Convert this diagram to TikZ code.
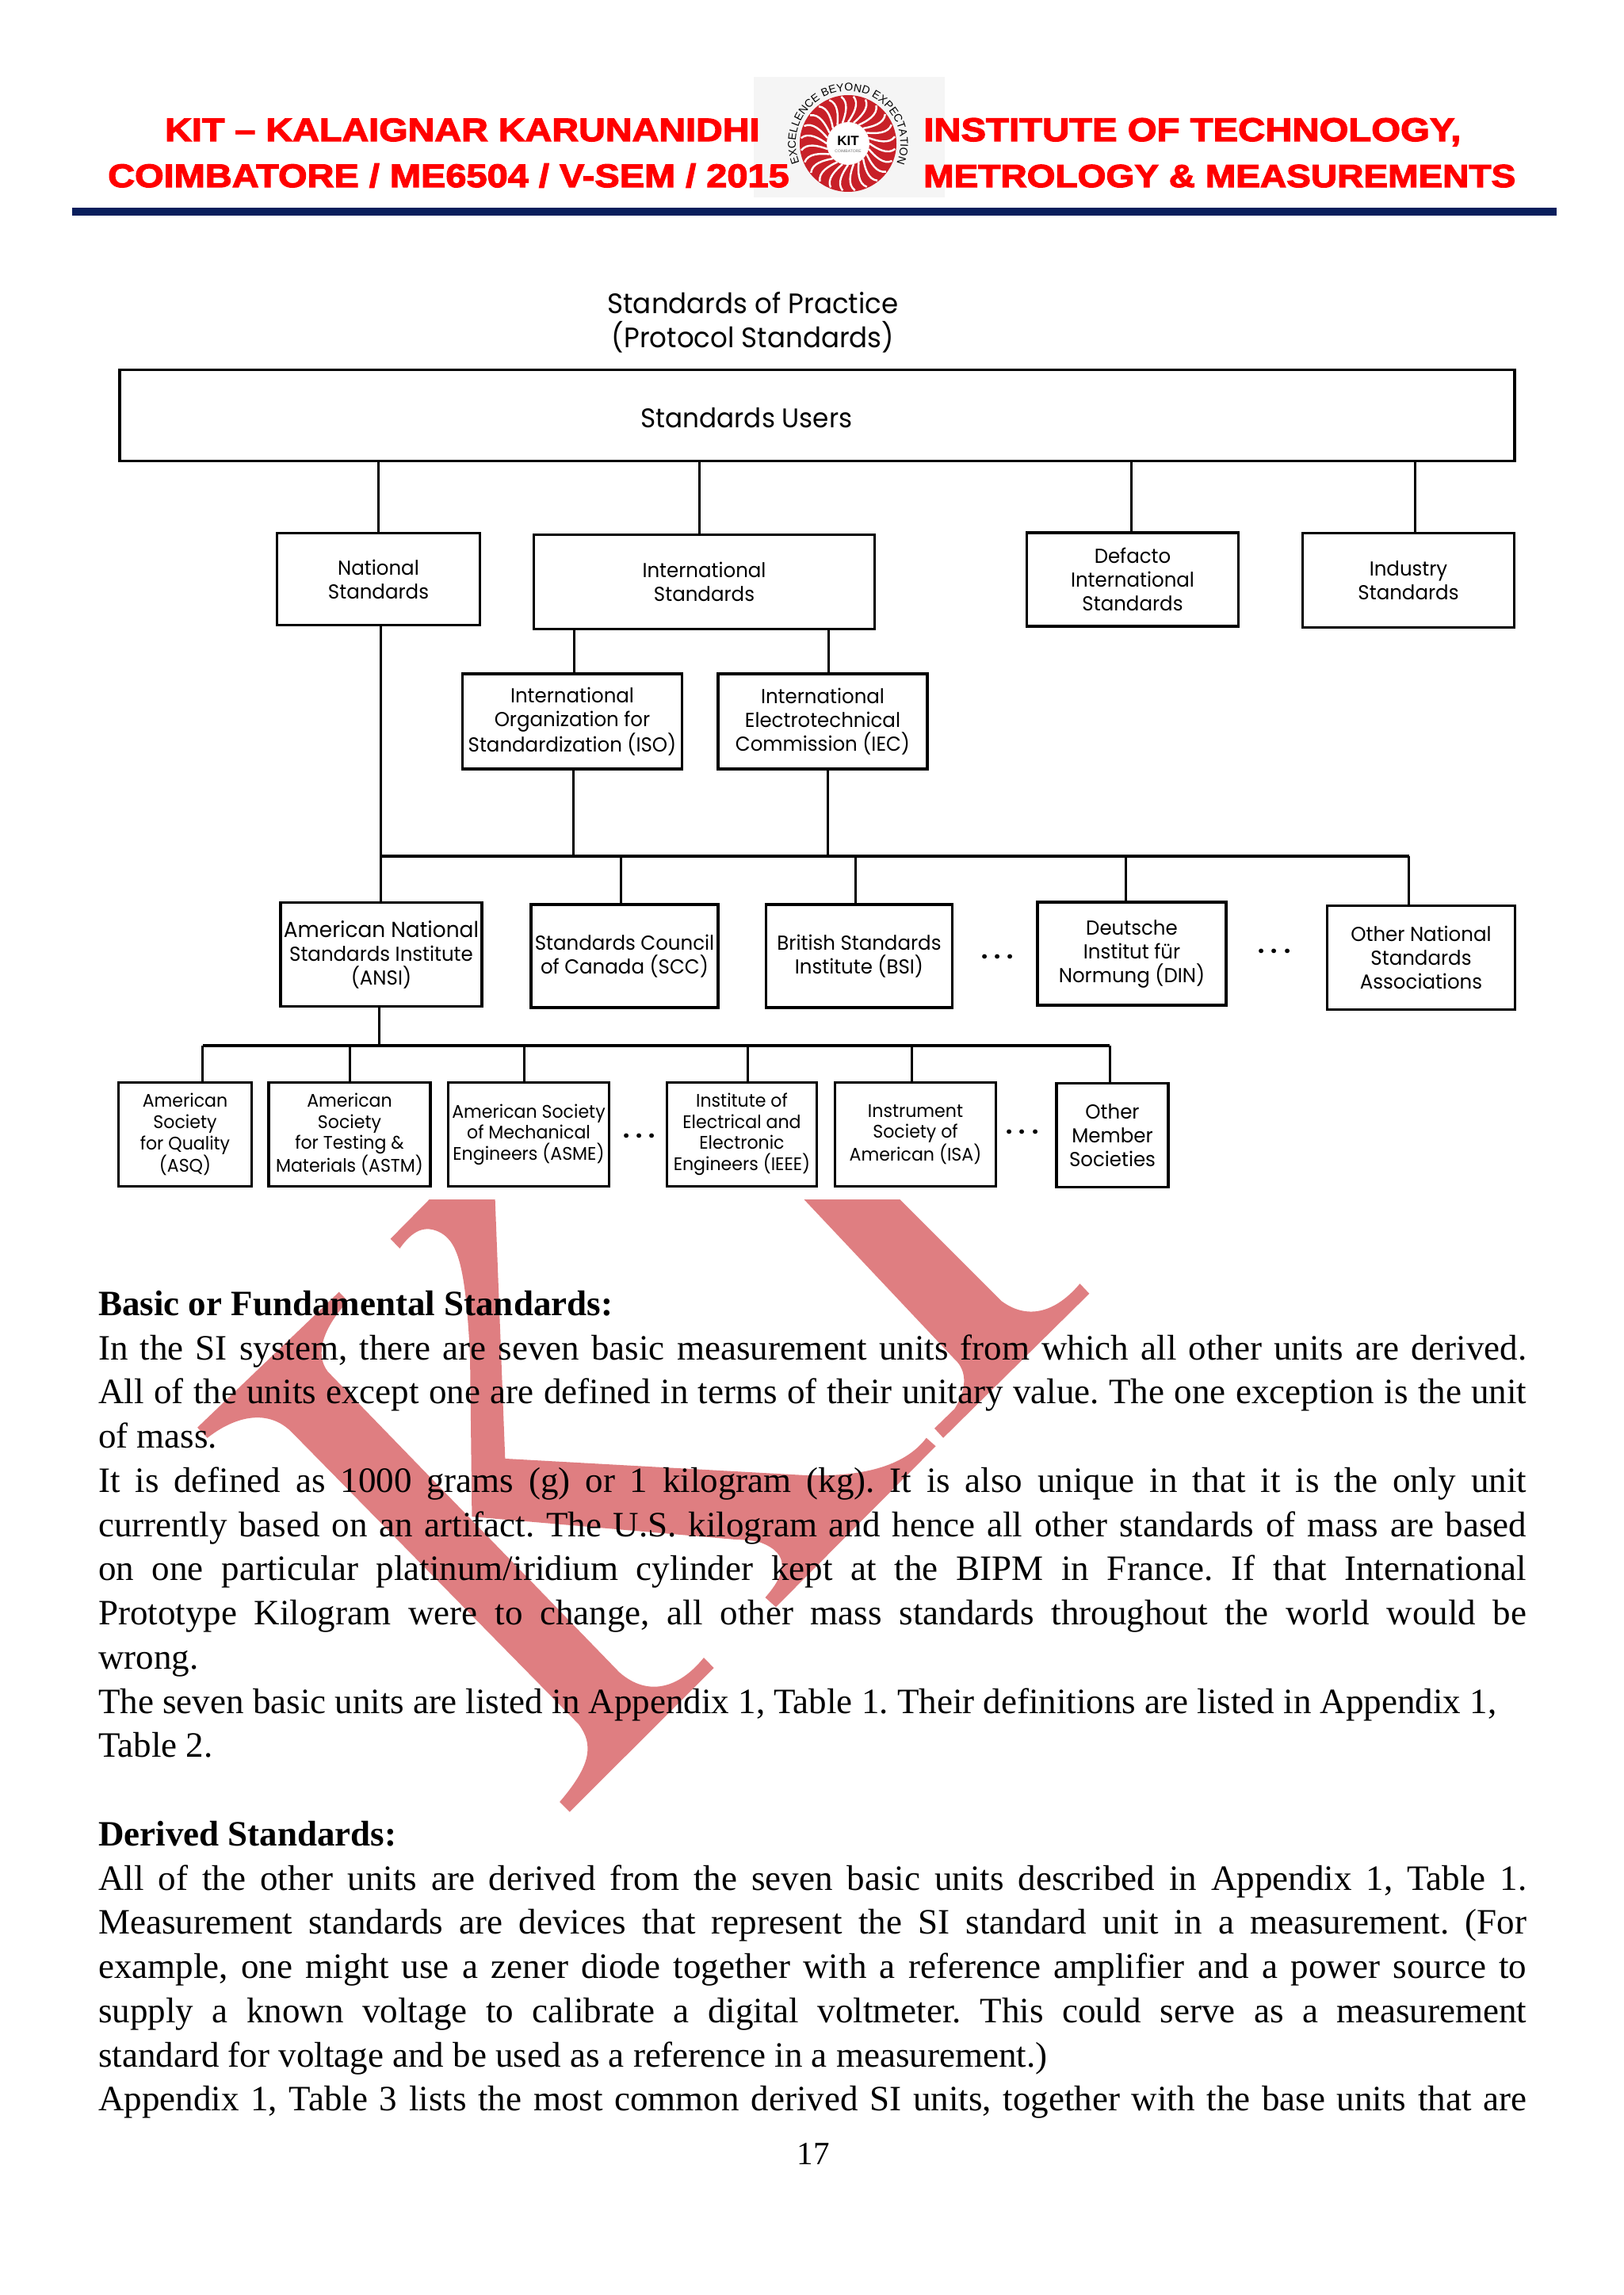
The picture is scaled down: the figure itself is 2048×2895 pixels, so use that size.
\documentclass[tikz,border=0pt]{standalone}
\usepackage{fontspec}
\usetikzlibrary{decorations.text}
\setmainfont{Liberation Serif}
\newfontfamily\headfont[FakeStretch=1.14,BoldFeatures={FakeBold=3}]{Liberation Sans}
\newfontfamily\chartfont[FakeStretch=0.96]{Poppins}
\newfontfamily\logofont{Liberation Sans}
\definecolor{stampred}{RGB}{223,126,129}
\definecolor{barblue}{RGB}{9,30,92}
\definecolor{logored}{RGB}{200,32,40}
\tikzset{
	headtext/.style={anchor=base west, inner sep=0, text=red, font=\headfont\bfseries\fontsize{41}{41}\selectfont},
	stdbox/.style={draw, line width=3.6pt, inner sep=0, align=center, font=\chartfont\fontsize{25.5}{30}\selectfont},
	tinybox/.style={stdbox, font=\chartfont\fontsize{23}{26.6}\selectfont},
	wire/.style={line width=3pt},
	moredots/.style={inner sep=0, font=\chartfont\bfseries\fontsize{30}{30}\selectfont},
	stamp/.style={fill=stampred, draw=none},
}
\begin{document}
\begin{tikzpicture}[x=1pt, y=-1pt]
			\useasboundingbox (0,0) rectangle (2048,2895);
			\fill[white] (0,0) rectangle (2048,2895);
			% header
			\fill[black!4] (951,97) rectangle (1192,249);
			\fill[logored] (1070,181) circle (61);
			\foreach \a in {0,15,...,345}
				\draw[white, line width=2.4pt] (1070,181) ++(\a:27) .. controls +(\a+35:12) and +(\a-40:-12) .. ++(\a+12:33);
			\fill[white] (1070,181) circle (27);
			\node[inner sep=0, font=\logofont\bfseries\fontsize{17}{17}\selectfont] (kit) at (1070,178) {KIT};
			\node[inner sep=0, text=black!55, font=\logofont\fontsize{5}{5}\selectfont] (kitcity) at (1070,191) {COIMBATORE};
			\path[decorate, decoration={text along path, text align=center, text={|\logofont\fontsize{14}{14}\selectfont|EXCELLENCE BEYOND EXPECTATION}}]
				(1070,181) ++(139:66) arc[start angle=139, end angle=401, radius=66];
			\node[headtext] (headA) at (208,178) {KIT – KALAIGNAR KARUNANIDHI};
			\node[headtext, font=\headfont\bfseries\fontsize{41.5}{41}\selectfont] (headB) at (1165,178) {INSTITUTE OF TECHNOLOGY,};
			\node[headtext, font=\headfont\bfseries\fontsize{41.2}{41}\selectfont] (headC) at (136,236) {COIMBATORE / ME6504 / V-SEM / 2015};
			\node[headtext, font=\headfont\bfseries\fontsize{40.4}{41}\selectfont] (headD) at (1165,236) {METROLOGY \& MEASUREMENTS};
			\fill[barblue] (91,262) rectangle (1964,272);
			% watermark
			\begin{scope}[shift={(200,1500)}, x=0.7908pt, y=-0.523pt]
				\fill[stamp] (432,25) -- (537,25) -- (553,650) -- (1030,690) .. controls (1120,695) and (1190,670) .. (1225,600) -- (1240,620) -- (985,1008) -- (968,985) .. controls (1000,930) and (1010,880) .. (960,852) .. controls (950,848) and (940,846) .. (920,845) -- (500,790) -- (497,400) .. controls (490,200) and (480,130) .. (450,105) .. controls (425,85) and (405,100) .. (385,143) -- (370,120) -- cycle;
				\fill[stamp] (288,248) -- (62,575) -- (78,600) .. controls (120,550) and (175,525) .. (215,590) -- (670,1290) .. controls (695,1340) and (690,1390) .. (640,1478) -- (656,1502) -- (886,1155) -- (870,1130) .. controls (830,1205) and (780,1225) .. (735,1165) -- (270,440) .. controls (250,400) and (260,340) .. (302,270) -- cycle;
				\fill[stamp] (1030,25) -- (1183,25) -- (1345,270) .. controls (1385,315) and (1430,300) .. (1470,228) -- (1485,252) -- (1252,600) -- (1238,577) -- (1270,530) .. controls (1295,470) and (1285,430) .. (1270,410) -- cycle;
			\end{scope}
			% chart, top part
			\node[inner sep=0, align=center, font=\chartfont\fontsize{35.5}{43}\selectfont] (practice) at (950,407) {Standards of Practice\\(Protocol Standards)};
			\node[stdbox, minimum width=1760, minimum height=115] (users) at (1031,524) {};
			\node[inner sep=0, font=\chartfont\fontsize{34}{34}\selectfont] (userstext) at (942,527) {Standards Users};
			\node[stdbox, minimum width=256, minimum height=116] (natl) at (477.5,730.5) {National\\Standards};
			\node[stdbox, minimum width=430, minimum height=119] (intl) at (888.5,734) {International\\Standards};
			\node[stdbox, minimum width=267, minimum height=118] (defacto) at (1429,731) {Defacto\\International\\Standards};
			\node[stdbox, minimum width=267, minimum height=119] (industry) at (1777,732) {Industry\\Standards};
			\node[stdbox, minimum width=277, minimum height=120] (iso) at (722,910) {International\\Organization for\\Standardization (ISO)};
			\node[stdbox, minimum width=264, minimum height=120] (iec) at (1038,910) {International\\Electrotechnical\\Commission (IEC)};
			\foreach \tgt/\xx in {natl/477.5,intl/882,defacto/1427,industry/1785}
				\draw[wire] (users.south -| \xx,0) -- (\tgt.north -| \xx,0);
			\draw[wire] (intl.south -| 724,0) -- (iso.north -| 724,0);
			\draw[wire] (intl.south -| 1045,0) -- (iec.north -| 1045,0);
			% national bodies
			\node[stdbox, minimum width=254, minimum height=131, font=\chartfont\fontsize{27.5}{30}\selectfont] (ansi) at (481,1204) {American National\\{\fontsize{25.5}{30}\selectfont Standards Institute}\\{\fontsize{25.5}{30}\selectfont (ANSI)}};
			\node[stdbox, minimum width=236, minimum height=130] (scc) at (788,1206) {Standards Council\\of Canada (SCC)};
			\node[stdbox, minimum width=235, minimum height=130] (bsi) at (1084,1206) {British Standards\\Institute (BSI)};
			\node[moredots] (dotsA) at (1258.5,1207) {.\hspace{8pt}.\hspace{8pt}.};
			\node[stdbox, minimum width=238, minimum height=130] (din) at (1428,1203) {Deutsche\\Institut für\\Normung (DIN)};
			\node[moredots] (dotsB) at (1608,1200) {.\hspace{8pt}.\hspace{8pt}.};
			\node[stdbox, minimum width=237, minimum height=131] (othernat) at (1793,1208) {Other National\\Standards\\Associations};
			\coordinate (busleft) at (480,1080);
			\coordinate (busright) at (1778,1080);
			\draw[wire] (natl.south -| busleft) -- (busleft);
			\draw[wire] (iso.south -| 723,0) -- (723,1080);
			\draw[wire] (iec.south -| 1044,0) -- (1044,1080);
			\draw[line width=4pt] (busleft) -- (busright);
			\foreach \tgt/\xx in {ansi/480,scc/783,bsi/1079,din/1420,othernat/1777.6}
				\draw[wire] (busleft -| \xx,0) -- (\tgt.north -| \xx,0);
			% member societies
			\node[tinybox, minimum width=168, minimum height=131] (asq) at (233.5,1431) {American\\Society\\for Quality\\(ASQ)};
			\node[tinybox, minimum width=204, minimum height=131] (astm) at (441,1431) {American\\Society\\for Testing \&\\Materials (ASTM)};
			\node[tinybox, minimum width=203, minimum height=131] (asme) at (667,1431) {American Society\\of Mechanical\\Engineers (ASME)};
			\node[moredots] (dotsC) at (806.7,1432.7) {.\hspace{8pt}.\hspace{8pt}.};
			\node[tinybox, minimum width=189, minimum height=131] (ieee) at (936,1431) {Institute of\\Electrical and\\Electronic\\Engineers (IEEE)};
			\node[tinybox, minimum width=203, minimum height=131] (isa) at (1155,1431) {Instrument\\Society of\\American (ISA)};
			\node[moredots] (dotsD) at (1290,1427.7) {.\hspace{8pt}.\hspace{8pt}.};
			\node[stdbox, minimum width=141, minimum height=131] (othermem) at (1403.5,1432) {Other\\Member\\Societies};
			\coordinate (lowleft) at (255.7,1319);
			\coordinate (lowright) at (1400,1319);
			\draw[wire] (ansi.south -| 478.7,0) -- (478.7,1319);
			\draw[line width=4pt] (lowleft) -- (lowright);
			\foreach \tgt/\xx in {asq/255.7,astm/441,asme/661.5,ieee/943.5,isa/1150,othermem/1400}
				\draw[wire] (lowleft -| \xx,0) -- (\tgt.north -| \xx,0);
			% page text
			\node[anchor=north west, inner sep=0, text width=1802, align=justify, font=\fontsize{45}{55.75}\selectfont\frenchspacing] (bodytext) at (124,1628) {%
				\textbf{Basic or Fundamental Standards:}\\
				In the SI system, there are seven basic measurement units from which all other units are derived.\linebreak
				All of the units except one are defined in terms of their unitary value. The one exception is the unit\linebreak
				of mass.\\
				It is defined as 1000 grams (g) or 1 kilogram (kg). It is also unique in that it is the only unit\linebreak
				currently based on an artifact. The U.S. kilogram and hence all other standards of mass are based\linebreak
				on one particular platinum/iridium cylinder kept at the BIPM in France. If that International\linebreak
				Prototype Kilogram were to change, all other mass standards throughout the world would be\linebreak
				wrong.\\
				The seven basic units are listed in Appendix 1, Table 1. Their definitions are listed in Appendix 1,\\
				Table 2.\\
				\mbox{}\\
				\textbf{Derived Standards:}\\
				All of the other units are derived from the seven basic units described in Appendix 1, Table 1.\linebreak
				Measurement standards are devices that represent the SI standard unit in a measurement. (For\linebreak
				example, one might use a zener diode together with a reference amplifier and a power source to\linebreak
				supply a known voltage to calibrate a digital voltmeter. This could serve as a measurement\linebreak
				standard for voltage and be used as a reference in a measurement.)\\
				Appendix 1, Table 3 lists the most common derived SI units, together with the base units that are\linebreak};
			\node[inner sep=0, font=\fontsize{41}{41}\selectfont] (pagenum) at (1026,2717) {17};
		\end{tikzpicture}
\end{document}
